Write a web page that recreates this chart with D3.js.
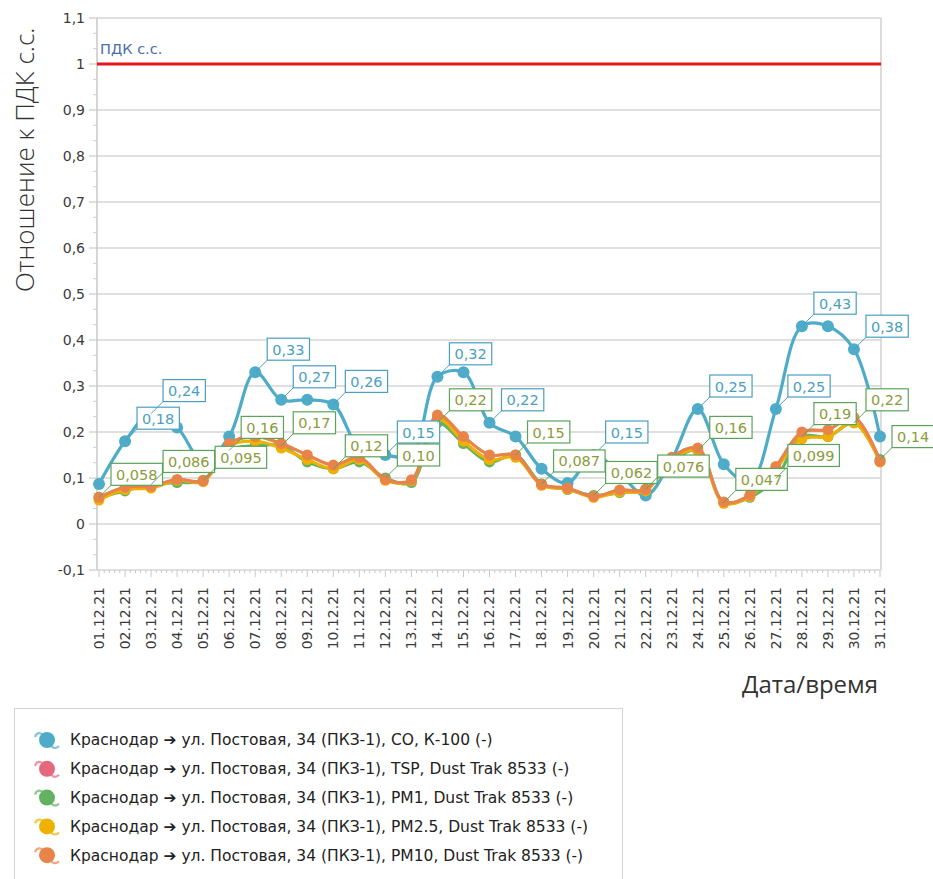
<!DOCTYPE html>
<html>
<head>
<meta charset="utf-8">
<script src="https://cdn.jsdelivr.net/npm/d3@7"></script>
<style>
  body { margin: 0; background: #fff; }
  svg { display: block; font-family: "DejaVu Sans", sans-serif; }
</style>
</head>
<body>
<div id="chart"></div>
<script>
// dates on the x axis
const dates = ["01.12.21","02.12.21","03.12.21","04.12.21","05.12.21","06.12.21","07.12.21","08.12.21",
  "09.12.21","10.12.21","11.12.21","12.12.21","13.12.21","14.12.21","15.12.21","16.12.21","17.12.21",
  "18.12.21","19.12.21","20.12.21","21.12.21","22.12.21","23.12.21","24.12.21","25.12.21","26.12.21",
  "27.12.21","28.12.21","29.12.21","30.12.21","31.12.21"];

// ratio to ПДК с.с., one value per day
const co    = [0.087,0.18,0.24,0.21,0.135,0.19,0.33,0.27,0.27,0.26,0.165,0.15,0.15,0.32,0.33,0.22,
  0.19,0.12,0.089,0.15,0.11,0.062,0.14,0.25,0.13,0.09,0.25,0.43,0.43,0.38,0.19];
const tsp   = [0.058,0.08,0.082,0.097,0.094,0.175,0.19,0.175,0.15,0.128,0.145,0.097,0.096,0.237,0.19,0.15,
  0.15,0.086,0.078,0.06,0.074,0.075,0.145,0.165,0.048,0.063,0.125,0.2,0.205,0.232,0.136];
const pm1   = [0.058,0.072,0.086,0.09,0.095,0.16,0.17,0.17,0.135,0.12,0.135,0.1,0.09,0.22,0.175,0.135,
  0.15,0.087,0.075,0.062,0.068,0.076,0.135,0.16,0.047,0.058,0.099,0.19,0.19,0.22,0.14];
const pm25  = [0.052,0.075,0.078,0.095,0.092,0.17,0.18,0.165,0.14,0.12,0.14,0.095,0.094,0.23,0.18,0.14,
  0.145,0.084,0.076,0.058,0.07,0.072,0.14,0.16,0.045,0.06,0.12,0.185,0.19,0.22,0.135];
const pm10  = [0.058,0.08,0.082,0.097,0.094,0.175,0.19,0.175,0.15,0.128,0.145,0.097,0.096,0.237,0.19,0.15,
  0.15,0.086,0.078,0.06,0.074,0.075,0.145,0.165,0.048,0.063,0.125,0.2,0.205,0.232,0.136];

// days that carry a value label
const coLabelDays  = [2,3,7,8,10,12,14,16,20,24,27,28,30];
const pm1LabelDays = [1,3,5,6,8,10,12,14,17,18,20,22,24,25,27,28,30,31];

const limitValue = 1;
const limitName = "ПДК с.с.";
const yTicks = d3.range(-1, 12).map(i => i / 10);

const seriesNames = [
  "Краснодар ➔ ул. Постовая, 34 (ПКЗ-1), CO, К-100 (-)",
  "Краснодар ➔ ул. Постовая, 34 (ПКЗ-1), TSP, Dust Trak 8533 (-)",
  "Краснодар ➔ ул. Постовая, 34 (ПКЗ-1), PM1, Dust Trak 8533 (-)",
  "Краснодар ➔ ул. Постовая, 34 (ПКЗ-1), PM2.5, Dust Trak 8533 (-)",
  "Краснодар ➔ ул. Постовая, 34 (ПКЗ-1), PM10, Dust Trak 8533 (-)"
];
const colors = ["#4eacc8", "#e5687c", "#62b262", "#f0b000", "#e8844a"];
const seriesValues = [co, tsp, pm1, pm25, pm10];

const W = 933, H = 879;
const plotLeft = 97, plotRight = 881, plotTop = 18, plotBottom = 570;

const loc = d3.formatLocale({decimal: ",", thousands: " ", grouping: [3], currency: ["", ""], minus: "-"});
const fmtTick = loc.format("~g");
const fmtLabel = loc.format(".2r");

const svg = d3.select("#chart").append("svg")
  .attr("width", W)
  .attr("height", H);

const x = d3.scaleLinear().domain([1, dates.length]).range([99, 880]);
const y = d3.scaleLinear().domain([-0.1, 1.1]).range([plotBottom, plotTop]);

// grid
svg.append("g")
  .selectAll("line")
  .data(yTicks)
  .enter().append("line")
  .attr("x1", plotLeft - 8).attr("x2", plotRight)
  .attr("y1", d => y(d)).attr("y2", d => y(d))
  .attr("stroke", "#d6d6d6")
  .attr("stroke-width", 1.5);

// minor y ticks
const yMinor = d3.range(-3, 33).map(i => i / 30).filter(v => Math.abs(v * 10 - Math.round(v * 10)) > 1e-6);
svg.append("g")
  .selectAll("line")
  .data(yMinor)
  .enter().append("line")
  .attr("x1", plotLeft - 4).attr("x2", plotLeft)
  .attr("y1", d => y(d)).attr("y2", d => y(d))
  .attr("stroke", "#cfcfcf");

// frame
svg.append("line").attr("x1", plotLeft).attr("x2", plotLeft).attr("y1", plotTop).attr("y2", plotBottom)
  .attr("stroke", "#c8c8c8").attr("stroke-width", 1.5);
svg.append("line").attr("x1", plotRight).attr("x2", plotRight).attr("y1", plotTop).attr("y2", plotBottom)
  .attr("stroke", "#d0d0d0").attr("stroke-width", 1.5);

// x ticks
const xMinor = d3.range(0, (dates.length - 1) * 5 + 1).map(i => 1 + i / 5);
svg.append("g")
  .selectAll("line")
  .data(xMinor)
  .enter().append("line")
  .attr("x1", d => x(d)).attr("x2", d => x(d))
  .attr("y1", plotBottom)
  .attr("y2", (d, i) => plotBottom + (i % 5 === 0 ? 7 : 3))
  .attr("stroke", "#c8c8c8");

// y tick labels
svg.append("g")
  .selectAll("text")
  .data(yTicks)
  .enter().append("text")
  .attr("x", plotLeft - 12)
  .attr("y", d => y(d))
  .attr("dy", "0.35em")
  .attr("text-anchor", "end")
  .attr("font-size", 14)
  .attr("fill", "#3a3a3a")
  .text(d => fmtTick(d));

// x tick labels
svg.append("g")
  .selectAll("text")
  .data(dates)
  .enter().append("text")
  .attr("transform", (d, i) => `translate(${x(i + 1)},${plotBottom + 17}) rotate(-90)`)
  .attr("dy", "0.35em")
  .attr("text-anchor", "end")
  .attr("font-size", 14)
  .attr("fill", "#3a3a3a")
  .text(d => d);

// axis titles
svg.append("text")
  .attr("transform", `translate(34,292) rotate(-90)`)
  .attr("font-family", "'Open Sans', sans-serif")
  .attr("font-weight", 300)
  .attr("font-size", 26)
  .attr("fill", "#333")
  .text("Отношение к ПДК с.с.");

svg.append("text")
  .attr("x", 878).attr("y", 693)
  .attr("text-anchor", "end")
  .attr("font-family", "'Open Sans', sans-serif")
  .attr("font-size", 24)
  .attr("fill", "#333")
  .text("Дата/время");

// limit line
svg.append("line")
  .attr("x1", plotLeft).attr("x2", plotRight)
  .attr("y1", y(limitValue)).attr("y2", y(limitValue))
  .attr("stroke", "#e8141b")
  .attr("stroke-width", 3);
svg.append("text")
  .attr("x", plotLeft + 3).attr("y", y(limitValue) - 10)
  .attr("font-size", 14.5)
  .attr("fill", "#4a6ea8")
  .text(limitName);

// series
const line = d3.line()
  .x((d, i) => x(i + 1))
  .y(d => y(d))
  .curve(d3.curveCatmullRom.alpha(0.5));

seriesValues.forEach((vals, k) => {
  const g = svg.append("g");
  g.append("path")
    .datum(vals)
    .attr("d", line)
    .attr("fill", "none")
    .attr("stroke", colors[k])
    .attr("stroke-width", k === 1 ? 2.4 : 3.2);
  g.selectAll("circle")
    .data(vals)
    .enter().append("circle")
    .attr("cx", (d, i) => x(i + 1))
    .attr("cy", d => y(d))
    .attr("r", k === 0 ? 6 : (k === 1 ? 4.5 : 5.5))
    .attr("fill", colors[k]);
});

// value labels
function drawLabels(vals, labelDays, border, textColor) {
  const g = svg.append("g");
  labelDays.forEach(day => {
    const v = vals[day - 1];
    const px = x(day), py = y(v);
    const bx = px + 12, by = py - 12;
    g.append("line")
      .attr("x1", px).attr("y1", py)
      .attr("x2", bx).attr("y2", by)
      .attr("stroke", border);
    const t = g.append("text")
      .attr("x", bx + 5).attr("y", by - 5.5)
      .attr("font-size", 14.5)
      .attr("fill", textColor)
      .text(fmtLabel(v));
    const w = t.node().getComputedTextLength();
    g.insert("rect", "text")
      .attr("x", bx).attr("y", by - 22)
      .attr("width", w + 10).attr("height", 22)
      .attr("fill", "#fff")
      .attr("stroke", border)
      .attr("stroke-width", 1.2);
  });
}
drawLabels(co, coLabelDays, "#4a9fc0", "#4a9fc0");
drawLabels(pm1, pm1LabelDays, "#5aa35a", "#8a9c3c");

// legend
svg.append("rect")
  .attr("x", 14.5).attr("y", 708.5)
  .attr("width", 608).attr("height", 190)
  .attr("fill", "#fff")
  .attr("stroke", "#d4d4d4");

const legend = svg.append("g")
  .selectAll("g")
  .data(seriesNames)
  .enter().append("g")
  .attr("transform", (d, i) => `translate(47,${740 + i * 28.8})`);

legend.append("path")
  .attr("d", "M-12,-3 C-10,-9 -4,-8 0,0 S8,10 12,6")
  .attr("fill", "none")
  .attr("stroke", (d, i) => colors[i])
  .attr("stroke-opacity", 0.7)
  .attr("stroke-width", 2.2);
legend.append("circle")
  .attr("r", 8)
  .attr("fill", (d, i) => colors[i]);
legend.append("text")
  .attr("x", 23)
  .attr("dy", "0.35em")
  .attr("font-size", 15.5)
  .attr("fill", "#222")
  .text(d => d);
</script>
</body>
</html>
